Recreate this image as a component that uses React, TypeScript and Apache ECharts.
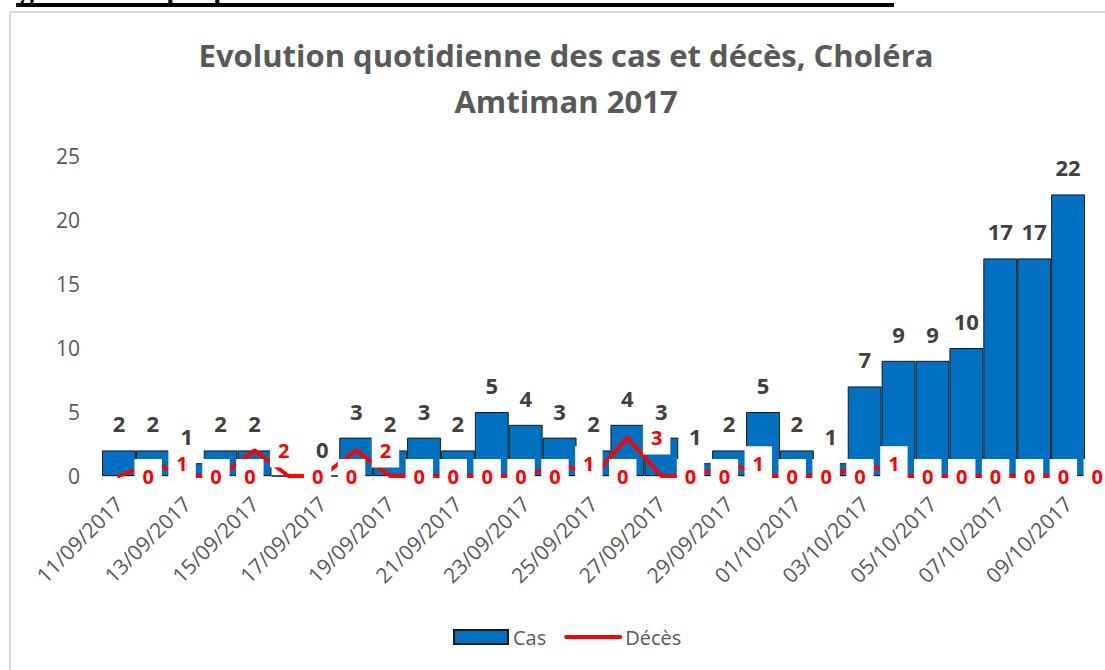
import React, { useEffect, useRef } from "react";
import * as echarts from "echarts";

const dates = [
  "11/09/2017", "12/09/2017", "13/09/2017", "14/09/2017", "15/09/2017", "16/09/2017",
  "17/09/2017", "18/09/2017", "19/09/2017", "20/09/2017", "21/09/2017", "22/09/2017",
  "23/09/2017", "24/09/2017", "25/09/2017", "26/09/2017", "27/09/2017", "28/09/2017",
  "29/09/2017", "30/09/2017", "01/10/2017", "02/10/2017", "03/10/2017", "04/10/2017",
  "05/10/2017", "06/10/2017", "07/10/2017", "08/10/2017", "09/10/2017",
];
const cas = [2, 2, 1, 2, 2, 0, 0, 3, 2, 3, 2, 5, 4, 3, 2, 4, 3, 1, 2, 5, 2, 1, 7, 9, 9, 10, 17, 17, 22];
const deces = [0, 1, 0, 0, 2, 0, 0, 2, 0, 0, 0, 0, 0, 1, 0, 3, 0, 0, 1, 0, 0, 0, 1, 0, 0, 0, 0, 0, 0];
const yTicks = { min: 0, max: 25, interval: 5 };

const titleText = "Evolution quotidienne des cas et décès, Choléra\nAmtiman 2017";
const headerText = "Figure 1 : Graphique sur l'évolution des cas et décès dans le DS d'Amtiman";

export default function App() {
  const ref = useRef<HTMLDivElement>(null);
  useEffect(() => {
    if (!ref.current) return;
    const chart = echarts.init(ref.current, undefined, { renderer: "svg" });
    const gray = "#595959";
    const font = "'Open Sans', 'Noto Sans', sans-serif";
    chart.setOption({
      animation: false,
      backgroundColor: "#ffffff",
      title: {
        text: titleText,
        left: 561,
        top: 27,
        textAlign: "center",
        textStyle: {
          fontFamily: font,
          fontWeight: "bold",
          fontSize: 31,
          lineHeight: 46,
          color: gray,
        },
      },
      graphic: [
        {
          type: "rect",
          shape: { x: 10, y: 12, width: 1200, height: 800 },
          style: { fill: "none", stroke: "#d9d9d9", lineWidth: 2 },
          silent: true,
        },
        {
          type: "text",
          x: 894,
          y: 3,
          style: {
            text: headerText,
            fill: "#000",
            font: "bold 28px 'Liberation Serif', serif",
            textAlign: "right",
            textVerticalAlign: "bottom",
          },
          silent: true,
        },
        {
          type: "rect",
          shape: { x: 16, y: 3, width: 878, height: 4 },
          style: { fill: "#000" },
          silent: true,
        },
      ],
      legend: {
        left: 448,
        top: 622,
        itemWidth: 54,
        itemHeight: 14,
        itemGap: 18,
        textStyle: { fontFamily: font, fontSize: 20, color: gray },
        data: [
          { name: "Cas", icon: "rect" },
          { name: "Décès", itemStyle: { opacity: 0 }, lineStyle: { width: 4, cap: "round" } },
        ],
      },
      grid: { left: 102, right: 20, top: 156, bottom: 194, containLabel: false },
      xAxis: {
        type: "category",
        data: dates,
        boundaryGap: true,
        axisLine: { lineStyle: { color: "#d9d9d9", width: 1 } },
        axisTick: { show: true, interval: 1, length: 5, lineStyle: { color: "#d9d9d9" } },
        axisLabel: {
          interval: 1,
          rotate: 45,
          margin: 24,
          fontFamily: font,
          fontSize: 21,
          color: gray,
        },
      },
      yAxis: {
        type: "value",
        min: yTicks.min,
        max: yTicks.max,
        interval: yTicks.interval,
        axisLine: { show: false },
        axisTick: { show: false },
        splitLine: { show: false },
        axisLabel: { margin: 22, fontFamily: font, fontSize: 21, color: gray },
      },
      series: [
        {
          name: "Cas",
          type: "bar",
          data: cas,
          barCategoryGap: "0%",
          z: 2,
          itemStyle: { color: "#0070C0", borderColor: "#1a1a1a", borderWidth: 1 },
          label: {
            show: true,
            position: "top",
            distance: 16,
            fontFamily: font,
            fontWeight: "bold",
            fontSize: 22,
            color: "#404040",
          },
        },
        {
          name: "Décès",
          type: "line",
          data: deces,
          z: 3,
          symbol: "circle",
          symbolSize: 1,
          showSymbol: true,
          showAllSymbol: true,
          itemStyle: { color: "#FF0000" },
          lineStyle: { color: "#FF0000", width: 4, cap: "round" },
          label: {
            show: true,
            position: "right",
            distance: 15,
            backgroundColor: "#ffffff",
            padding: [7, 8],
            fontFamily: font,
            fontWeight: "bold",
            fontSize: 20,
            color: "#FF0000",
          },
        },
      ],
    });
    return () => chart.dispose();
  }, []);
  return (
    <div
      ref={ref}
      style={{ position: "fixed", left: 0, top: 0, width: 1105, height: 670, background: "#fff" }}
    />
  );
}
